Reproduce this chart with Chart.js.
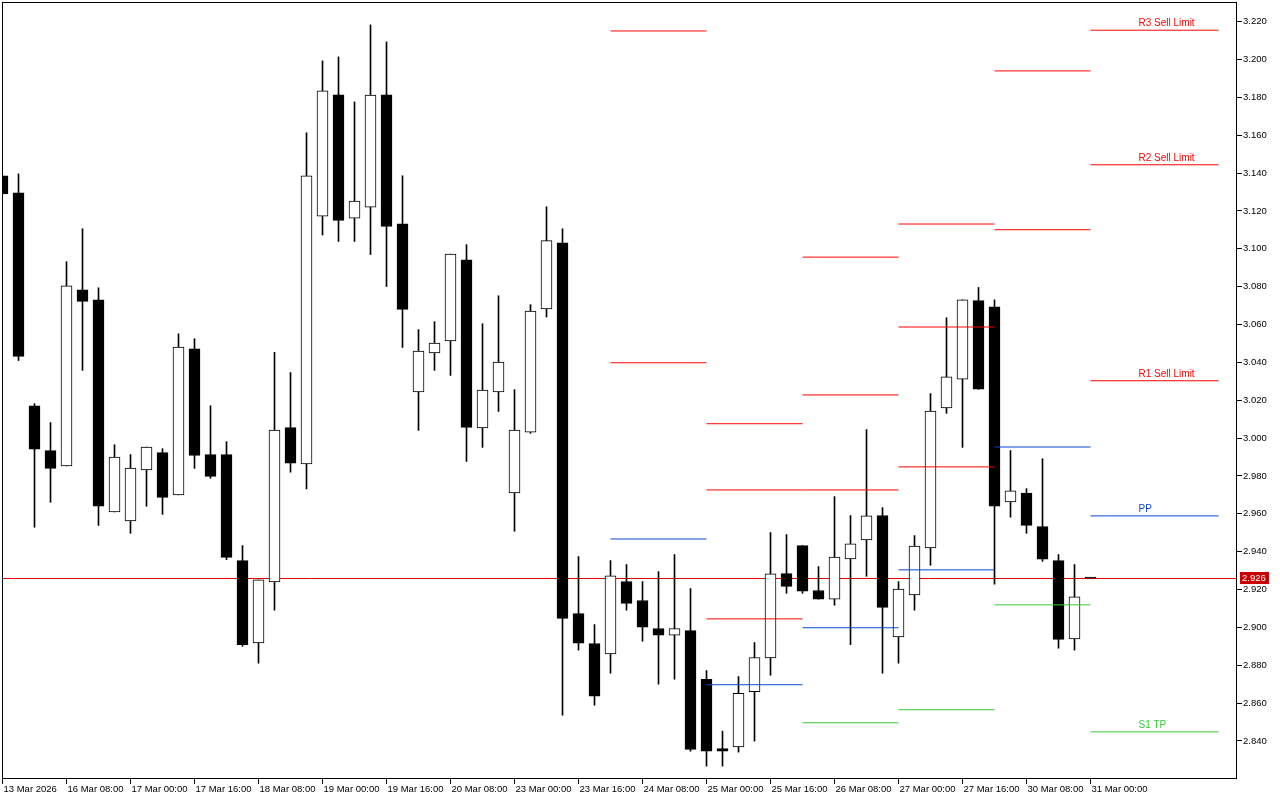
<!DOCTYPE html>
<html><head><meta charset="utf-8">
<script src="https://cdn.jsdelivr.net/npm/chart.js@4.4.1/dist/chart.umd.min.js"></script>
<style>html,body{margin:0;padding:0;background:#fff;overflow:hidden}</style>
</head><body>
<canvas id="c" width="1280" height="800"></canvas>
<script>
// H4 candles, 13 Mar 2026 16:00 .. 31 Mar 2026 00:00 (index = candle number)
const opens  = [3.1385,3.1296,3.0171,2.9934,2.9853,3.0784,3.0731,2.961,2.9563,2.9832,2.9923,2.97,3.0472,2.9913,2.9913,2.9353,2.8918,2.924,3.0055,2.9863,3.1173,3.1813,3.1162,3.122,3.1813,3.1132,3.0244,3.045,3.0513,3.0942,3.0054,3.0244,2.971,3.0032,3.0682,3.1032,2.9073,2.8915,2.886,2.9242,2.9142,2.8994,2.8959,2.8983,2.8725,2.836,2.8369,2.866,2.8839,2.9284,2.9432,2.9195,2.9149,2.9362,2.9462,2.9591,2.895,2.9172,2.942,3.0159,3.0312,3.0726,3.0694,2.9663,2.971,2.9532,2.9353,2.8939,2.926];
const highs  = [3.1385,3.1396,3.0182,3.0082,3.0932,3.1106,3.0794,2.9965,2.9913,2.9953,2.9944,3.0551,3.0525,3.0171,2.9981,2.9432,2.9251,3.0453,3.0346,3.1613,3.1993,3.2014,3.1776,3.2183,3.2093,3.1386,3.0573,3.0615,3.0972,3.1022,3.0604,3.0752,3.0256,3.0705,3.1222,3.1106,2.9374,2.9015,2.9353,2.9332,2.9242,2.9295,2.9385,2.9205,2.8772,2.8452,2.874,2.892,2.9501,2.949,2.9432,2.9321,2.9691,2.9591,3.0045,2.9633,2.9242,2.9485,3.0235,3.0636,3.0731,3.0796,3.0731,2.9934,2.9733,2.9891,2.9385,2.9332,2.926];
const lows   = [3.129,3.041,2.9529,2.9661,2.9853,3.0358,2.9539,2.961,2.9497,2.964,2.9597,2.97,2.984,2.9788,2.9358,2.89,2.8811,2.9091,2.982,2.9731,3.1073,3.1039,3.1039,3.097,3.0801,3.0479,3.0041,3.0358,3.0331,2.9877,2.9951,3.0141,2.9508,3.0025,3.064,2.8536,2.888,2.8589,2.8758,2.9091,2.8927,2.87,2.8726,2.8346,2.8267,2.8267,2.8341,2.8399,2.8747,2.918,2.918,2.9149,2.9117,2.8909,2.927,2.8758,2.8811,2.9091,2.9328,3.0131,2.9951,3.0258,2.9228,2.9582,2.9497,2.9349,2.889,2.888,2.926];
const closes = [3.129,3.0432,2.9941,2.984,3.0805,3.0722,2.964,2.99,2.9842,2.9953,2.9687,3.0481,2.9909,2.9798,2.937,2.8909,2.9251,3.0043,2.9867,3.1386,3.1835,3.115,3.1252,3.1812,3.1118,3.068,3.046,3.0502,3.0972,3.0057,3.0254,3.0402,3.0043,3.0671,3.1043,2.9048,2.8916,2.8636,2.9272,2.9127,2.9001,2.8959,2.8994,2.8355,2.8346,2.8346,2.8651,2.8841,2.9283,2.9217,2.9191,2.9149,2.9372,2.9441,2.9589,2.9106,2.9203,2.943,3.0143,3.0324,3.0731,3.0258,2.964,2.9721,2.9539,2.936,2.8937,2.9161,2.926];

const tickIdx    = [0,4,8,12,16,20,24,28,32,36,40,44,48,52,56,60,64,68];
const tickLabels = ["13 Mar 2026","16 Mar 08:00","17 Mar 00:00","17 Mar 16:00","18 Mar 08:00","19 Mar 00:00","19 Mar 16:00","20 Mar 08:00","23 Mar 00:00","23 Mar 16:00","24 Mar 08:00","25 Mar 00:00","25 Mar 16:00","26 Mar 08:00","27 Mar 00:00","27 Mar 16:00","30 Mar 08:00","31 Mar 00:00"];
const priceTicks = [2.84,2.86,2.88,2.90,2.92,2.94,2.96,2.98,3.00,3.02,3.04,3.06,3.08,3.10,3.12,3.14,3.16,3.18,3.20,3.22];

const bid = 2.926;

// daily pivot levels (24, 25, 26, 27, 30, 31 Mar)
const dayStart = [38,44,50,56,62,68];
const dayEnd   = [44,50,56,62,68,76];
const r3 = [null,3.0076,3.0956,3.1131,null,3.2155];
const r2 = [3.2151,2.9726,3.0228,3.0587,3.1940,3.1444];
const r1 = [3.0398,2.9045,2.9726,2.9848,3.1101,3.0303];
const pp = [2.9467,2.8697,2.8998,2.9304,2.9953,2.9589];
const s1 = [null,null,2.8496,2.8565,2.9119,2.8448];
const levelLabels = ["R3 Sell Limit","R2 Sell Limit","R1 Sell Limit","PP","S1 TP"];
const labelAt = 71;

const RED = '#ff0000', BLUE = '#0a47d4', GREEN = '#33cc33';
const FONT = '"Liberation Sans", Arial, sans-serif';

function segs(levels){
  const d = [];
  levels.forEach((v,k)=>{
    if (v == null) return;
    d.push({x:dayStart[k], y:v}, {x:dayEnd[k], y:v}, {x:dayEnd[k], y:null});
  });
  return d;
}
function lineDs(levels, color){
  return {type:'line', data:segs(levels), borderColor:color, borderWidth:1, pointRadius:0,
          fill:false, tension:0, spanGaps:false, clip:0, order:0};
}

const xMin = -0.5/16, xMax = xMin + 1235/16;

const mtPlugin = {
  id:'mtframe',
  beforeDatasetsDraw(chart){
    const {ctx, chartArea:a, scales:{y}} = chart;
    const py = Math.round(y.getPixelForValue(bid)) + 0.5;
    ctx.save();
    ctx.strokeStyle = '#e00000'; ctx.lineWidth = 1;
    ctx.beginPath(); ctx.moveTo(a.left, py); ctx.lineTo(a.right, py); ctx.stroke();
    ctx.restore();
  },
  afterDraw(chart){
    const {ctx, chartArea:a, scales:{x, y}} = chart;
    ctx.save();
    ctx.strokeStyle = '#000'; ctx.lineWidth = 1;
    ctx.strokeRect(a.left+0.5, a.top+0.5, a.right-a.left-1, a.bottom-a.top-1);
    // level labels for current day
    const lvls = [r3[5], r2[5], r1[5], pp[5], s1[5]];
    const cols = [RED, RED, RED, BLUE, GREEN];
    ctx.font = '10px ' + FONT; ctx.textAlign = 'left'; ctx.textBaseline = 'alphabetic';
    const lx = x.getPixelForValue(labelAt);
    lvls.forEach((v,k)=>{
      ctx.fillStyle = cols[k];
      ctx.fillText(levelLabels[k], lx, y.getPixelForValue(v) - 4);
    });
    // bid price tag
    const py = Math.round(y.getPixelForValue(bid));
    ctx.fillStyle = '#cc0000';
    ctx.fillRect(a.right + 3, py - 6, 29, 12);
    ctx.fillStyle = '#fff';
    ctx.font = '9.5px ' + FONT; ctx.textBaseline = 'middle';
    ctx.fillText(bid.toFixed(3), a.right + 5, py + 0.5);
    ctx.restore();
  }
};

new Chart(document.getElementById('c'), {
  type:'bar',
  data:{
    datasets:[
      lineDs(r3, RED), lineDs(r2, RED), lineDs(r1, RED), lineDs(pp, BLUE), lineDs(s1, GREEN),
      {type:'bar', data:opens.map((o,i)=>({x:i, y:[o, closes[i]]})),
       backgroundColor:ctx=>{const i=ctx.dataIndex; return closes[i] > opens[i] ? '#ffffff' : '#000000';},
       borderColor:'#000', borderWidth:1, borderSkipped:false, barThickness:11, grouped:false,
       minBarLength:1, clip:0, order:1},
      {type:'bar', data:lows.map((l,i)=>({x:i, y:[l, highs[i]]})),
       backgroundColor:'#000', borderWidth:0, barThickness:1, grouped:false, clip:0, order:2}
    ]
  },
  options:{
    responsive:false, animation:false, devicePixelRatio:1, events:[],
    layout:{padding:{left:2, top:2, right:0, bottom:0}},
    plugins:{legend:{display:false}, tooltip:{enabled:false}},
    scales:{
      x:{type:'linear', position:'bottom', min:xMin, max:xMax, offset:false,
         afterBuildTicks:s=>{ s.ticks = tickIdx.map(v=>({value:v})); },
         afterFit:s=>{ s.height = 21; s.paddingLeft = 0; s.paddingRight = 0; },
         grid:{drawOnChartArea:false, drawTicks:true, tickLength:5, color:'#000', offset:false},
         border:{display:false},
         ticks:{autoSkip:false, maxRotation:0, minRotation:0, align:'start', labelOffset:1, padding:0,
                color:'#000', font:{family:FONT, size:9.5},
                callback:v=>{ const k = tickIdx.indexOf(Math.round(v)); return k >= 0 ? tickLabels[k] : ''; }}},
      y:{type:'linear', position:'right', min:2.8199, max:3.2304,
         afterBuildTicks:s=>{ s.ticks = priceTicks.map(v=>({value:v})); },
         afterFit:s=>{ s.width = 43; s.paddingTop = 0; s.paddingBottom = 0; },
         grid:{drawOnChartArea:false, drawTicks:true, tickLength:5, color:'#000'},
         border:{display:false},
         ticks:{autoSkip:false, padding:1, color:'#000', font:{family:FONT, size:9.5},
                callback:v=>Number(v).toFixed(3)}}
    }
  },
  plugins:[mtPlugin]
});
</script>
</body></html>
